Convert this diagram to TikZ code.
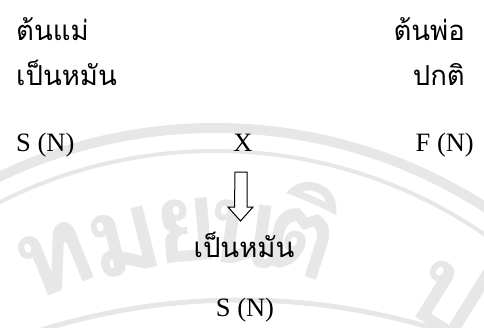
\documentclass[tikz,border=0pt]{standalone}
\usepackage{fontspec}
\setmainfont{Liberation Serif}
\newfontfamily\thaifont[Script=Thai]{Loma}
\definecolor{wm}{RGB}{231,231,231}
\begin{document}
\begin{tikzpicture}[x=1pt,y=-1pt,
  lat/.style={font=\fontsize{26.5}{30}\selectfont, inner sep=0pt},
  thai/.style={font=\thaifont\fontsize{27.5}{31}\selectfont, inner sep=0pt},
  wmtxt/.style={text=wm, font=\thaifont\bfseries\fontsize{112}{112}\selectfont, inner sep=0pt},
  blockarrow/.style={draw=black, line width=1pt, fill=white, line join=miter}]
\useasboundingbox (0,0) rectangle (484,327);
\begin{scope}
\clip (0,0) rectangle (484,327);
\draw[wm, line width=10pt] (215,628) circle[radius=500];
\draw[wm, line width=4pt] (215,628) circle[radius=477];
\draw[wm, line width=5pt] (240,968) circle[radius=668];
\node[wmtxt, rotate=22] (w1) at (55,260) {ท};
\node[wmtxt, rotate=14] (w2) at (125,242) {ม};
\node[wmtxt, rotate=5] (w3) at (186,230) {ย};
\node[wmtxt, rotate=-8] (w4) at (244,234) {น};
\node[wmtxt, rotate=-18] (w5) at (304,228) {ติ};
\node[wmtxt, rotate=-32] (w6) at (452,292) {ป};
\end{scope}
\node[thai, anchor=base west] (mother) at (16,40) {ต้นแม่};
\node[thai, anchor=base west] (msterile) at (16,85) {เป็นหมัน};
\node[lat, anchor=base west] (mgen) at (16,151) {S (N)};
\node[lat, anchor=base] (cross) at (243,151) {X};
\node[thai, anchor=base east] (father) at (465,40) {ต้นพ่อ};
\node[thai, anchor=base east] (fnormal) at (465,85) {ปกติ};
\node[lat, anchor=base east] (fgen) at (474,151) {F (N)};
\coordinate (atop) at (241,172);
\draw[blockarrow] ([xshift=-6pt]atop) -- ([xshift=6pt]atop) -- ++(0,35) -- ++(6,0)
  -- ++(-12.5,14) -- ++(-12.5,-14) -- ++(6.5,0) -- cycle;
\node[thai, anchor=base] (osterile) at (244,257) {เป็นหมัน};
\node[lat, anchor=base] (ogen) at (245,316) {S (N)};
\end{tikzpicture}
\end{document}
